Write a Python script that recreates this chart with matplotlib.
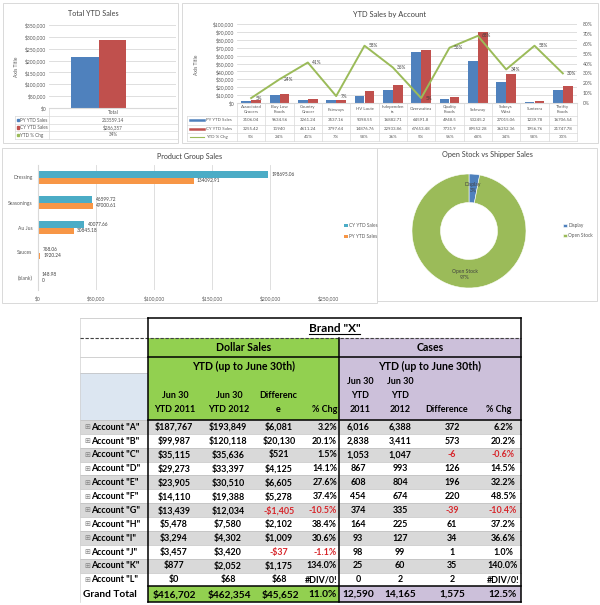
import matplotlib
matplotlib.use('Agg')
import matplotlib.pyplot as plt
from matplotlib.patches import Rectangle
from matplotlib.lines import Line2D

plt.rcParams['font.family'] = ['Lato', 'DejaVu Sans']

# ---- data ----
total_py = 213559.14
total_cy = 286357
total_chg = '34%'

accounts = ['Associated\nGrocers', 'Buy Low\nFoods', 'Country\nGrocer', 'Fairways', 'HV Louie',
            'Independen\nts', 'Overwaitea', 'Quality\nFoods', 'Safeway', 'Sobeys\nWest',
            'Sunterra', 'Thrifty\nFoods']
acct_py = [3106.04, 9634.56, 3261.24, 3537.16, 9398.55, 16882.71, 64591.8, 4948.5,
           53245.2, 27015.06, 1239.78, 16706.54]
acct_cy = [3255.42, 11940, 4611.24, 3797.64, 14876.76, 22933.86, 67653.48, 7731.9,
           89552.28, 36252.36, 1956.76, 21747.78]
acct_chg = [5, 24, 41, 7, 58, 36, 5, 56, 68, 34, 58, 30]

groups = ['Dressing', 'Seasonings', 'Au Jus', 'Sauces', '(blank)']
grp_cy = [198695.06, 46599.72, 40077.66, 768.06, 148.98]
grp_py = [134092.91, 47000.61, 30845.18, 1920.24, 0]

stock_labels = ['Display', 'Open Stock']
stock_share = [3, 97]

rows = ['Account "A"', 'Account "B"', 'Account "C"', 'Account "D"', 'Account "E"', 'Account "F"',
        'Account "G"', 'Account "H"', 'Account "I"', 'Account "J"', 'Account "K"', 'Account "L"']
py_dollars = [187767, 99987, 35115, 29273, 23905, 14110, 13439, 5478, 3294, 3457, 877, 0]
cy_dollars = [193849, 120118, 35636, 33397, 30510, 19388, 12034, 7580, 4302, 3420, 2052, 68]
diff_dollars = [6081, 20130, 521, 4125, 6605, 5278, -1405, 2102, 1009, -37, 1175, 68]
pct_dollars = ['3.2%', '20.1%', '1.5%', '14.1%', '27.6%', '37.4%', '-10.5%', '38.4%',
               '30.6%', '-1.1%', '134.0%', '#DIV/0!']
py_cases = [6016, 2838, 1053, 867, 608, 454, 374, 164, 93, 98, 25, 0]
cy_cases = [6388, 3411, 1047, 993, 804, 674, 335, 225, 127, 99, 60, 2]
diff_cases = [372, 573, -6, 126, 196, 220, -39, 61, 34, 1, 35, 2]
pct_cases = ['6.2%', '20.2%', '-0.6%', '14.5%', '32.2%', '48.5%', '-10.4%', '37.2%',
             '36.6%', '1.0%', '140.0%', '#DIV/0!']
grand_dollars = [416702, 462354, 45652]
grand_dollars_pct = '11.0%'
grand_cases = [12590, 14165, 1575]
grand_cases_pct = '12.5%'

# ---- style ----
PY_C = '#4F81BD'
CY_C = '#C0504D'
LINE_C = '#9BBB59'
GRP_CY = '#4BACC6'
GRP_PY = '#F79646'
GRID = '#D9D9D9'
TXT = '#595959'
GREEN = '#92D050'
LAV = '#CCC0DA'
RED = '#D7262B'
W, H = 600, 605


def rect(x0, y0, x1, y1):
    return [x0 / W, 1 - y1 / H, (x1 - x0) / W, (y1 - y0) / H]


def plain(v):
    return f'{v:.2f}'.rstrip('0').rstrip('.')


def money(v):
    return f'-${abs(v):,}' if v < 0 else f'${v:,}'


def style_axes(ax):
    for s in ['top', 'right', 'left']:
        ax.spines[s].set_visible(False)
    ax.spines['bottom'].set_color(GRID)
    ax.tick_params(length=0, labelsize=3.6, labelcolor=TXT, pad=2)


fig = plt.figure(figsize=(6, 6.05), dpi=100)
bg = fig.add_axes([0, 0, 1, 1])
bg.set_xlim(0, W)
bg.set_ylim(H, 0)
bg.axis('off')

# panel borders
for x0, y0, x1, y1 in [(3, 3, 178, 143), (182, 3, 598, 143), (2, 148, 377, 303), (377, 148, 597, 301)]:
    bg.add_patch(Rectangle((x0, y0), x1 - x0, y1 - y0, fill=False, ec=GRID, lw=0.7))

# ---- Total YTD Sales ----
ax1 = fig.add_axes(rect(49, 25, 176, 108))
ax1.bar([-0.11], [total_py], 0.22, color=PY_C)
ax1.bar([0.11], [total_cy], 0.22, color=CY_C)
ax1.set_xlim(-0.39, 0.61)
ax1.set_ylim(0, 350000)
ax1.set_yticks(range(0, 350001, 50000))
ax1.set_yticklabels([money(v) for v in range(0, 350001, 50000)])
ax1.set_xticks([])
ax1.grid(axis='y', color=GRID, lw=0.6)
ax1.set_axisbelow(True)
style_axes(ax1)
bg.text(93, 14, 'Total YTD Sales', ha='center', va='center', fontsize=5.2, color='#404040')
bg.text(17, 67, 'Axis Title', rotation=90, ha='center', va='center', fontsize=3.6, color=TXT)

t1_rows = [112, 120, 127.5, 135]
for yl in [116, 124, 131, 139]:
    bg.plot([15, 178], [yl, yl], color=GRID, lw=0.5)
bg.plot([49, 49], [108, 139], color=GRID, lw=0.5)
bg.plot([178, 178], [108, 139], color=GRID, lw=0.5)
bg.plot([15, 15], [116, 139], color=GRID, lw=0.5)
bg.text(113, t1_rows[0], 'Total', ha='center', va='center', fontsize=3.4, color=TXT)
t1_labels = ['PY YTD Sales', 'CY YTD Sales', 'YTD % Chg']
t1_vals = [plain(total_py), money(total_cy), total_chg]
for yc, lab, val, c in zip(t1_rows[1:], t1_labels, t1_vals, [PY_C, CY_C, LINE_C]):
    bg.add_patch(Rectangle((16.5, yc - 1.3), 2.6, 2.6, color=c))
    bg.text(20, yc, lab, ha='left', va='center', fontsize=3.3, color=TXT)
    bg.text(113, yc, val, ha='center', va='center', fontsize=3.3, color=TXT)

# ---- YTD Sales by Account ----
n = len(accounts)
ax2 = fig.add_axes(rect(237, 24, 577, 103))
xs = list(range(n))
ax2.bar([x - 0.175 for x in xs], acct_py, 0.35, color=PY_C)
ax2.bar([x + 0.175 for x in xs], acct_cy, 0.35, color=CY_C)
ax2.set_xlim(-0.5, n - 0.5)
ax2.set_ylim(0, 100000)
ax2.set_yticks(range(0, 100001, 10000))
ax2.set_yticklabels([money(v) for v in range(0, 100001, 10000)])
ax2.set_xticks([])
ax2.grid(axis='y', color=GRID, lw=0.6)
ax2.set_axisbelow(True)
style_axes(ax2)
ax2b = ax2.twinx()
ax2b.plot(xs, [v / 100 for v in acct_chg], color=LINE_C, lw=1.4)
for x, v in zip(xs, acct_chg):
    ax2b.annotate(f'{v}%', (x, v / 100), xytext=(3, 0), textcoords='offset points',
                  fontsize=3.4, color='#404040', va='center', ha='left')
ax2b.set_ylim(0, 0.8)
ax2b.set_yticks([i / 10 for i in range(9)])
ax2b.set_yticklabels([f'{i * 10}%' for i in range(9)])
for s in ['top', 'right', 'left', 'bottom']:
    ax2b.spines[s].set_visible(False)
ax2b.tick_params(length=0, labelsize=3.6, labelcolor=TXT, pad=4)
bg.text(390, 14, 'YTD Sales by Account', ha='center', va='center', fontsize=5.4, color='#404040')
bg.text(197, 65, 'Axis Title', rotation=90, ha='center', va='center', fontsize=3.6, color=TXT)

cw = (577 - 237) / n
for i in range(n + 1):
    bg.plot([237 + i * cw] * 2, [103, 141], color=GRID, lw=0.5)
bg.plot([187, 187], [116, 141], color=GRID, lw=0.5)
for yl in [116, 124.5, 133, 141]:
    bg.plot([187, 577], [yl, yl], color=GRID, lw=0.5)
t2_rows = [120.2, 128.7, 137]
t2_labels = ['PY YTD Sales', 'CY YTD Sales', 'YTD % Chg']
for yc, lab, c, lw in zip(t2_rows, t2_labels, [PY_C, CY_C, LINE_C], [1.8, 1.8, 0.8]):
    bg.plot([190, 204], [yc, yc], color=c, lw=lw)
    bg.text(206, yc, lab, ha='left', va='center', fontsize=3.2, color=TXT)
for i in range(n):
    xc = 237 + (i + 0.5) * cw
    bg.text(xc, 109.5, accounts[i], ha='center', va='center', fontsize=3.2, color=TXT, linespacing=1.1)
    bg.text(xc, t2_rows[0], plain(acct_py[i]), ha='center', va='center', fontsize=3.2, color=TXT)
    bg.text(xc, t2_rows[1], plain(acct_cy[i]), ha='center', va='center', fontsize=3.2, color=TXT)
    bg.text(xc, t2_rows[2], f'{acct_chg[i]}%', ha='center', va='center', fontsize=3.2, color=TXT)

# ---- Product Group Sales ----
ax3 = fig.add_axes(rect(38, 165, 328, 290))
ys = list(range(len(groups)))
b_cy = ax3.barh([y - 0.13 for y in ys], grp_cy, 0.26, color=GRP_CY, label='CY YTD Sales')
b_py = ax3.barh([y + 0.13 for y in ys], grp_py, 0.26, color=GRP_PY, label='PY YTD Sales')
for y, v in zip(ys, grp_cy):
    ax3.annotate(plain(v), (v, y - 0.13), xytext=(2.5, 0), textcoords='offset points',
                 fontsize=3.4, color='#404040', va='center')
for y, v in zip(ys, grp_py):
    ax3.annotate(plain(v), (v, y + 0.13), xytext=(2.5, 0), textcoords='offset points',
                 fontsize=3.4, color='#404040', va='center')
ax3.set_ylim(len(groups) - 0.5, -0.5)
ax3.set_xlim(0, 250000)
ax3.set_xticks(range(0, 250001, 50000))
ax3.set_xticklabels([money(v) for v in range(0, 250001, 50000)])
ax3.set_yticks(ys)
ax3.set_yticklabels(groups)
ax3.grid(axis='x', color=GRID, lw=0.6)
ax3.set_axisbelow(True)
for s in ['top', 'right', 'bottom']:
    ax3.spines[s].set_visible(False)
ax3.spines['left'].set_color(GRID)
ax3.tick_params(length=0, labelsize=3.6, labelcolor=TXT, pad=4)
ax3.legend(handles=[b_cy, b_py], loc='center left', bbox_to_anchor=(340 / W, 1 - 231 / H),
           bbox_transform=fig.transFigure, frameon=False, fontsize=3.4, handlelength=0.7,
           handleheight=0.7, handletextpad=0.4, labelspacing=1.2, labelcolor=TXT)
bg.text(190, 156, 'Product Group Sales', ha='center', va='center', fontsize=5.2, color='#404040')

# ---- Open Stock vs Shipper Sales ----
ax4 = fig.add_axes(rect(412, 174, 526, 288))
wedges, _ = ax4.pie(stock_share, colors=[PY_C, LINE_C], startangle=90, counterclock=False,
                    radius=1, wedgeprops=dict(width=0.5, edgecolor='white', linewidth=0.4))
tot = sum(stock_share)
for w, lab, v in zip(wedges, stock_labels, stock_share):
    import math
    ang = math.radians((w.theta1 + w.theta2) / 2)
    ax4.text(0.77 * math.cos(ang), 0.77 * math.sin(ang), f'{lab}\n{round(100 * v / tot)}%',
             ha='center', va='center', fontsize=3.6, color='#404040', linespacing=1.3)
ax4.set_xlim(-1, 1)
ax4.set_ylim(-1, 1)
ax4.legend(wedges, stock_labels, loc='center left', bbox_to_anchor=(559 / W, 1 - 230.5 / H),
           bbox_transform=fig.transFigure, frameon=False, fontsize=3.4, handlelength=0.7,
           handleheight=0.7, handletextpad=0.4, labelspacing=1.0, labelcolor=TXT)
bg.text(487, 155, 'Open Stock vs Shipper Sales', ha='center', va='center', fontsize=5.2, color='#404040')

# ---- Brand table ----
LX0, LX1 = 80, 148
DX = [148, 201, 254, 302, 339]
CX = [339, 378, 420, 483, 521]
ROW0 = 420
RH = 13.87
GT0 = ROW0 + 12 * RH
GT1 = 602
BK = 1.1

bg.add_patch(Rectangle((DX[0], 338), DX[-1] - DX[0], ROW0 - 338, color=GREEN, lw=0))
bg.add_patch(Rectangle((CX[0], 338), CX[-1] - CX[0], ROW0 - 338, color=LAV, lw=0))
bg.add_patch(Rectangle((LX0, 373), LX1 - LX0, ROW0 - 373, color='#DCE6F1', lw=0))
for r in range(12):
    y0 = ROW0 + r * RH
    if r % 2 == 0:
        bg.add_patch(Rectangle((LX0, y0), CX[-1] - LX0, RH, color='#D9D9D9', lw=0))
    bg.plot([LX0, CX[-1]], [y0, y0], color='#BFBFBF', lw=0.5)
bg.add_patch(Rectangle((DX[0], GT0), DX[-1] - DX[0], GT1 - GT0, color=GREEN, lw=0))
bg.add_patch(Rectangle((CX[0], GT0), CX[-1] - CX[0], GT1 - GT0, color=LAV, lw=0))

# light grid in label column
for yl in [318, 357, 373]:
    bg.plot([LX0, LX1], [yl, yl], color='#BFBFBF', lw=0.5)
bg.plot([LX0, LX0], [318, GT1], color='#D0D0D0', lw=0.5)
bg.plot([LX0, CX[-1]], [338, 338], color='#404040', lw=0.8, ls=(0, (3, 1.5)))
# black borders
for yl in [318, 357, ROW0, GT0, GT1]:
    bg.plot([DX[0], CX[-1]], [yl, yl], color='black', lw=BK)
bg.plot([DX[0], DX[0]], [318, GT1], color='black', lw=BK)
bg.plot([CX[-1], CX[-1]], [318, GT1], color='black', lw=BK)
bg.plot([CX[0], CX[0]], [338, GT1], color='black', lw=BK)

bt = bg.text((DX[0] + CX[-1]) / 2, 328, 'Brand "X"', ha='center', va='center', fontsize=8.5,
             fontweight='bold', color='black')
fig.canvas.draw()
bb = bt.get_window_extent().transformed(bg.transData.inverted())
bg.plot([bb.x0, bb.x1], [333.5, 333.5], color='black', lw=0.8)

bg.text((DX[0] + DX[-1]) / 2, 347.5, 'Dollar Sales', ha='center', va='center', fontsize=7.6, fontweight='bold')
bg.text((CX[0] + CX[-1]) / 2, 347.5, 'Cases', ha='center', va='center', fontsize=7.6, fontweight='bold')
bg.text((DX[0] + DX[-1]) / 2, 366, 'YTD (up to June 30th)', ha='center', va='center', fontsize=7.6, fontweight='bold')
bg.text((CX[0] + CX[-1]) / 2, 366, 'YTD (up to June 30th)', ha='center', va='center', fontsize=7.6, fontweight='bold')

HL = [382, 396, 410]
head = [(175, 'center', ['', 'Jun 30', 'YTD 2011']),
        (229, 'center', ['', 'Jun 30', 'YTD 2012']),
        (278, 'center', ['', 'Differenc', 'e']),
        (337, 'right', ['', '', '% Chg']),
        (360, 'center', ['Jun 30', 'YTD', '2011']),
        (400, 'center', ['Jun 30', 'YTD', '2012']),
        (447, 'center', ['', '', 'Difference']),
        (499, 'center', ['', '', '% Chg'])]
for x, ha, lines in head:
    for yl, s in zip(HL, lines):
        if s:
            bg.text(x, yl, s, ha=ha, va='center', fontsize=6.5, fontweight='bold')

col_x = [174, 228, 279, 337, 358, 400, 452, 503]
col_ha = ['center', 'center', 'center', 'right', 'center', 'center', 'center', 'center']
for r in range(12):
    yc = ROW0 + (r + 0.5) * RH
    vals = [money(py_dollars[r]), money(cy_dollars[r]), money(diff_dollars[r]), pct_dollars[r],
            f'{py_cases[r]:,}', f'{cy_cases[r]:,}', f'{diff_cases[r]:,}', pct_cases[r]]
    reds = [False, False, diff_dollars[r] < 0, diff_dollars[r] < 0,
            False, False, diff_cases[r] < 0, diff_cases[r] < 0]
    for x, ha, v, red in zip(col_x, col_ha, vals, reds):
        bg.text(x, yc + 0.3, v, ha=ha, va='center', fontsize=6.4, fontweight='bold',
                color=RED if red else 'black')
    bg.text(84.5, yc + 0.3, '⊞', ha='left', va='center', fontsize=5, color='#808080',
            family='DejaVu Sans')
    bg.text(91, yc + 0.3, rows[r], ha='left', va='center', fontsize=6.4, fontweight='bold')

yc = (GT0 + GT1) / 2
gvals = [money(v) for v in grand_dollars] + [grand_dollars_pct] + \
        [f'{v:,}' for v in grand_cases] + [grand_cases_pct]
gx = [174, 229, 280, 337, 358, 400, 452, 503]
for x, ha, v in zip(gx, col_ha, gvals):
    bg.text(x, yc + 0.3, v, ha=ha, va='center', fontsize=7.3, fontweight='bold')
bg.text(83, yc + 0.3, 'Grand Total', ha='left', va='center', fontsize=7.3, fontweight='bold')

fig.savefig('out.png', dpi=100, facecolor='white')
